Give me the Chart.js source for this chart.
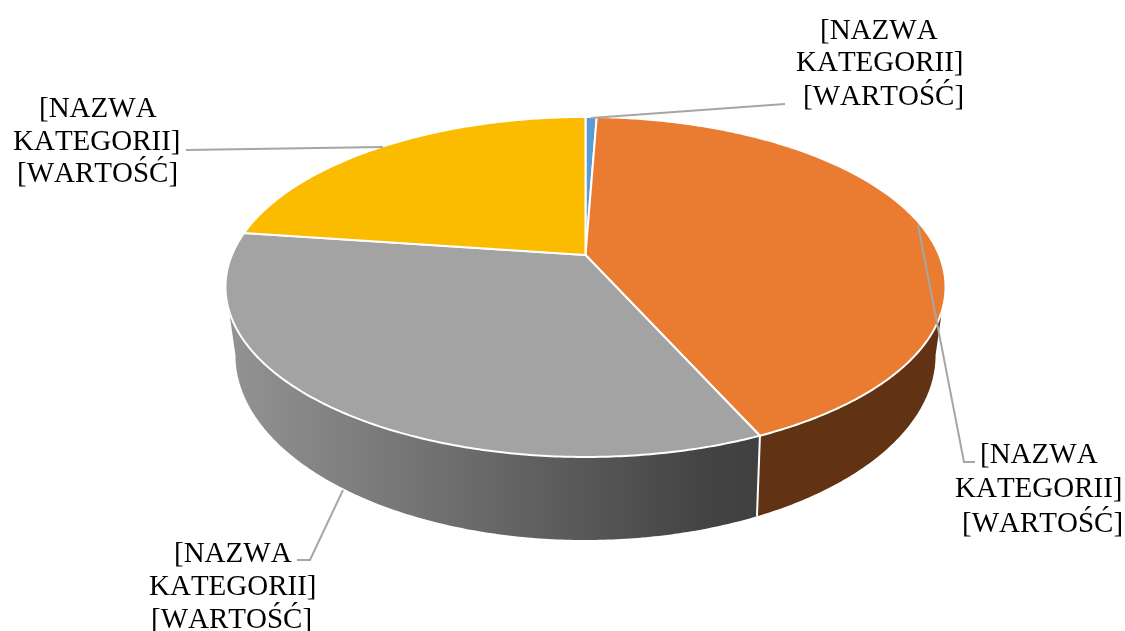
<!DOCTYPE html>
<html>
<head>
<meta charset="utf-8">
<style>html,body{margin:0;padding:0;background:#fff}canvas{display:block}</style>
<script src="https://cdn.jsdelivr.net/npm/chart.js@4"></script>
</head>
<body>
<canvas id="c" width="1125" height="631"></canvas>
<script>
const categories = ["Niebieski", "Pomarańczowy", "Szary", "Żółty"];
const values = [0.6, 42.7, 33.9, 22.8];
const sliceColors = ["#5b9bd5", "#ea7c32", "#a3a3a3", "#fbbc00"];
const labelLines = ["[NAZWA", "KATEGORII]", "[WARTOŚĆ]"];

const topFace = {cx: 585.5, cy: 255, a: 353.6, b: 164, k: -0.188};
const baseFace = {cx: 585.5, cy: 318, a: 343, b: 177.6, k: -0.2};
const deg = Math.PI/180;
function project(f, th){
  const x = Math.sin(th), y = -Math.cos(th), w = 1 + f.k*y;
  return [f.cx + f.a*x/w, f.cy + f.b*y/w];
}
function pts(f, a, b){
  const n = Math.max(2, Math.ceil(Math.abs(b-a)/0.01)), r = [];
  for(let i=0;i<=n;i++) r.push(project(f, a+(b-a)*i/n));
  return r;
}
function path(ctx, list){
  ctx.beginPath();
  list.forEach((p,i)=> i ? ctx.lineTo(p[0],p[1]) : ctx.moveTo(p[0],p[1]));
}
const labelBoxes = [
  {x:[820,796,803], y:[39,71,105]},
  {x:[39,13,17], y:[117,150,182]},
  {x:[980,955,962], y:[463,497,532]},
  {x:[174,149,151], y:[562,595,628]}
];
const leaders = [
  [[591,118],[785,104]],
  [[186,150],[383,147]],
  [[918,225],[964,462],[975,462]],
  [[343,490],[310,560],[297,560]]
];
const pie3d = {
  id: 'pie3d',
  beforeDatasetsDraw(chart){
    const ctx = chart.ctx;
    const arcs = chart.getDatasetMeta(0).data;
    const ang = arcs.map(e => [e.startAngle + Math.PI/2, e.endAngle + Math.PI/2]);
    ctx.save();
    const grad = ctx.createLinearGradient(230,0,755,0);
    grad.addColorStop(0,'#939393'); grad.addColorStop(0.9,'#444444'); grad.addColorStop(1,'#404040');
    const t = ang[1][1];
    // visible side wall: the silhouette runs straight from the top rim to the widest point of the base
    path(ctx, pts(topFace,108.7*deg,t).concat(pts(baseFace,t,101.5*deg)));
    ctx.fillStyle = '#613214'; ctx.fill();
    path(ctx, pts(topFace,t,251.3*deg).concat(pts(baseFace,258.5*deg,t)));
    ctx.fillStyle = grad; ctx.fill();
    ctx.strokeStyle = '#fff'; ctx.lineWidth = 2;
    path(ctx, [project(topFace,t), project(baseFace,t)]); ctx.stroke();
    arcs.forEach((e,i)=>{
      const a = ang[i];
      path(ctx, [[topFace.cx,topFace.cy]].concat(pts(topFace,a[0],a[1])));
      ctx.closePath();
      ctx.fillStyle = e.options.backgroundColor; ctx.fill();
      ctx.strokeStyle = e.options.borderColor; ctx.lineWidth = e.options.borderWidth;
      ctx.lineJoin = 'round';
      ctx.stroke();
    });
    ctx.strokeStyle = '#a6a6a6'; ctx.lineWidth = 2; ctx.lineJoin='miter';
    leaders.forEach(l=>{ path(ctx,l); ctx.stroke(); });
    ctx.fillStyle = '#000';
    ctx.font = '29px "Liberation Serif"';
    ctx.fontKerning = 'none';
    ctx.textAlign = 'left'; ctx.textBaseline = 'alphabetic';
    labelBoxes.forEach(b=> labelLines.forEach((s,i)=> ctx.fillText(s,b.x[i],b.y[i])));
    ctx.restore();
    return false;
  }
};
new Chart(document.getElementById('c'), {
  type: 'pie',
  data: {labels: categories, datasets: [{data: values, backgroundColor: sliceColors, borderColor: '#ffffff', borderWidth: 2}]},
  options: {
    responsive: false, animation: false,
    plugins: {legend: {display:false}, tooltip: {enabled:false}}
  },
  plugins: [pie3d]
});
</script>
</body>
</html>
